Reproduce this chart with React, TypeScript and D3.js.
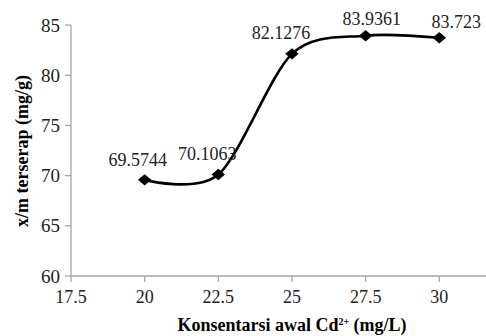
import { useEffect, useRef } from "react";
import * as d3 from "d3";

// concentration (mg/L) vs adsorbed amount (mg/g)
const concentrations = [20, 22.5, 25, 27.5, 30];
const adsorbed = [69.5744, 70.1063, 82.1276, 83.9361, 83.723];
const pointLabels = ["69.5744", "70.1063", "82.1276", "83.9361", "83.723"];
const xTicks = [17.5, 20, 22.5, 25, 27.5, 30];
const yTicks = [60, 65, 70, 75, 80, 85];

// label nudges, as Excel placed them
const labelDx = [-7, -11, -11, 6, 17];
const labelDy = [-14, -15, -15, -11, -10];

const W = 486, H = 336;

export default function App() {
  const ref = useRef<SVGSVGElement | null>(null);

  useEffect(() => {
    const svg = d3.select(ref.current);
    svg.selectAll("*").remove();

    const left = 71, top = 25, bottom = 276;

    const x = d3.scaleLinear().domain([17.5, 32.5]).range([left, left + 6 * 73.66]);
    const y = d3.scaleLinear().domain([60, 85]).range([bottom, top]);

    const axisColor = "#a6a6a6";
    const font = "Liberation Serif, Times New Roman, serif";

    // X axis
    const gx = svg.append("g").attr("transform", `translate(0,${bottom})`);
    gx.append("line")
      .attr("x1", left).attr("x2", W)
      .attr("stroke", axisColor).attr("stroke-width", 1.3);
    gx.selectAll(".xt")
      .data(xTicks)
      .enter()
      .append("line")
      .attr("x1", d => x(d)).attr("x2", d => x(d))
      .attr("y1", 0).attr("y2", 6)
      .attr("stroke", axisColor).attr("stroke-width", 1.3);
    gx.selectAll(".xl")
      .data(xTicks)
      .enter()
      .append("text")
      .attr("x", d => x(d))
      .attr("y", 27)
      .attr("text-anchor", "middle")
      .style("font-family", font)
      .style("font-size", "18px")
      .attr("fill", "#222")
      .text(d => String(d));

    // Y axis
    const gy = svg.append("g");
    gy.append("line")
      .attr("x1", left).attr("x2", left)
      .attr("y1", top).attr("y2", bottom)
      .attr("stroke", axisColor).attr("stroke-width", 1.3);
    gy.selectAll(".yt")
      .data(yTicks)
      .enter()
      .append("line")
      .attr("x1", left - 6).attr("x2", left)
      .attr("y1", d => y(d)).attr("y2", d => y(d))
      .attr("stroke", axisColor).attr("stroke-width", 1.3);
    gy.selectAll(".yl")
      .data(yTicks)
      .enter()
      .append("text")
      .attr("x", left - 11)
      .attr("y", d => y(d))
      .attr("dy", "0.35em")
      .attr("text-anchor", "end")
      .style("font-family", font)
      .style("font-size", "19px")
      .attr("fill", "#222")
      .text(d => String(d));

    // smoothed line
    const pts = concentrations.map((c, i) => [x(c), y(adsorbed[i])] as [number, number]);
    svg.append("path")
      .attr("d", d3.line().curve(d3.curveCardinal.tension(0.12))(pts))
      .attr("fill", "none")
      .attr("stroke", "#000")
      .attr("stroke-width", 2.6);

    // diamond markers
    const diamond = d3.symbol().type(d3.symbolSquare).size(90);
    svg.selectAll(".pt")
      .data(pts)
      .enter()
      .append("path")
      .attr("d", diamond())
      .attr("transform", d => `translate(${d[0]},${d[1]}) scale(1,0.85) rotate(45)`)
      .attr("fill", "#000");

    // data labels
    svg.selectAll(".lbl")
      .data(pts)
      .enter()
      .append("text")
      .attr("x", (d, i) => d[0] + labelDx[i])
      .attr("y", (d, i) => d[1] + labelDy[i])
      .attr("text-anchor", "middle")
      .style("font-family", font)
      .style("font-size", "18px")
      .attr("fill", "#222")
      .text((d, i) => pointLabels[i]);

    // axis titles
    svg.append("text")
      .attr("transform", `translate(28,151) rotate(-90)`)
      .attr("text-anchor", "middle")
      .style("font-family", font)
      .style("font-size", "18px")
      .style("font-weight", "bold")
      .text("x/m terserap (mg/g)");

    const xt = svg.append("text")
      .attr("x", 292)
      .attr("y", 331)
      .attr("text-anchor", "middle")
      .style("font-family", font)
      .style("font-size", "18px")
      .style("font-weight", "bold");
    xt.append("tspan").text("Konsentarsi awal Cd");
    xt.append("tspan").attr("dy", -6).style("font-size", "10px").text("2+");
    xt.append("tspan").attr("dy", 6).text(" (mg/L)");
  }, []);

  return (
    <svg
      ref={ref}
      width={W}
      height={H}
      style={{ position: "absolute", left: 0, top: 0, background: "#fff" }}
    />
  );
}
